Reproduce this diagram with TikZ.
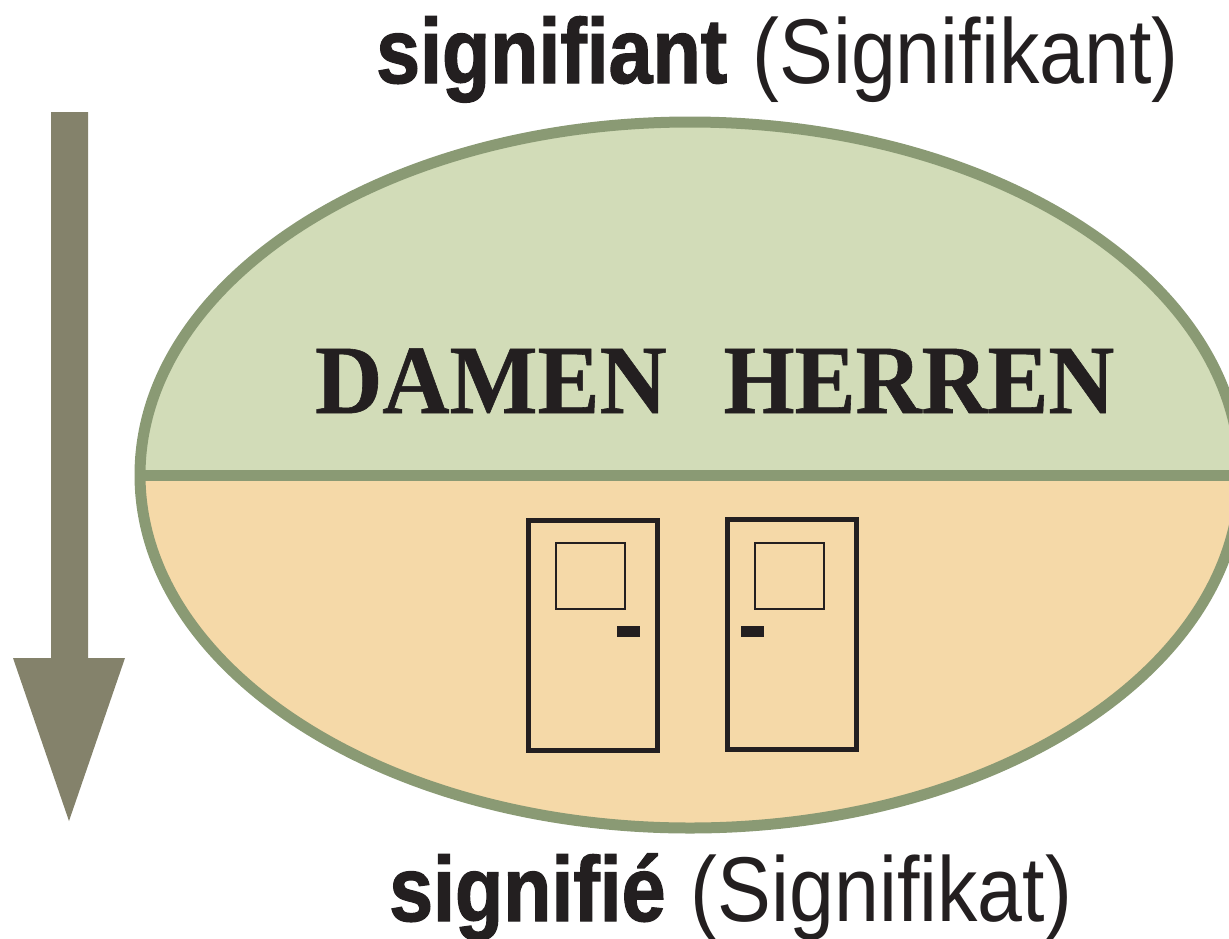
\documentclass[tikz,border=0pt]{standalone}
\usepackage{fontspec}
\setmainfont{Liberation Sans}
\newfontfamily\boldlab[FakeStretch=0.858,FakeBold=1.4]{Liberation Sans Bold}
\newfontfamily\lightlab[FakeStretch=0.877]{Liberation Sans}
\newfontfamily\signa[FakeStretch=0.95,FakeBold=0.6]{Liberation Serif Bold}
\newfontfamily\signb[FakeStretch=0.932,FakeBold=0.6]{Liberation Serif Bold}
\definecolor{rim}{HTML}{8A9A74}
\definecolor{topfill}{HTML}{D2DCB8}
\definecolor{botfill}{HTML}{F5D9A8}
\definecolor{arrowc}{HTML}{84826B}
\definecolor{ink}{HTML}{231F20}
\tikzset{
  px/.style={x=1pt,y=-1pt},
  doorline/.style={draw=ink,line width=5.3pt,fill=none},
  paneline/.style={draw=ink,line width=2.3pt,fill=none},
  knob/.style={fill=ink,draw=none},
  labeltext/.style={text=ink,inner sep=0pt,anchor=base west,font=\fontsize{92}{92}\selectfont},
  signtext/.style={text=ink,inner sep=0pt,anchor=base,font=\fontsize{98}{98}\selectfont}
}
\begin{document}
\begin{tikzpicture}[px]
\useasboundingbox (0,0) rectangle (1229,938);
\begin{scope}
\clip (0,0) rectangle (1229,938);
\begin{scope}
\clip (0,0) rectangle (1229,475);
\fill[topfill] (690,475) ellipse [x radius=550,y radius=353];
\end{scope}
\begin{scope}
\clip (0,475) rectangle (1229,938);
\fill[botfill] (690,475) ellipse [x radius=550,y radius=353];
\end{scope}
\draw[rim,line width=11pt] (690,475) ellipse [x radius=550,y radius=353];
\draw[rim,line width=11pt] (140,475) -- (1240,475);
\end{scope}
\fill[arrowc] (51,112) -- (88,112) -- (88,658) -- (125,658) -- (69,821) -- (13,658) -- (51,658) -- cycle;
\node[signtext] (damen) at (491,413) {\signa DAMEN};
\node[signtext] (herren) at (919,413) {\signb HERREN};
\draw[doorline] (528.6,520.6) rectangle (657.4,750.6);
\draw[paneline] (556.3,543.2) rectangle (624.8,608.8);
\fill[knob] (616.5,626) rectangle (639.5,637);
\draw[doorline] (727.6,519.6) rectangle (856.4,749.6);
\draw[paneline] (755.3,543.2) rectangle (823.8,608.8);
\fill[knob] (741,626) rectangle (764,637);
\node[labeltext] (sa) at (376,83) {\boldlab signifiant\lightlab{} \kern3pt(Signifikant)};
\node[labeltext] (se) at (389,921) {\boldlab signifié\lightlab{} \kern3pt(Signifikat)};
\end{tikzpicture}
\end{document}
